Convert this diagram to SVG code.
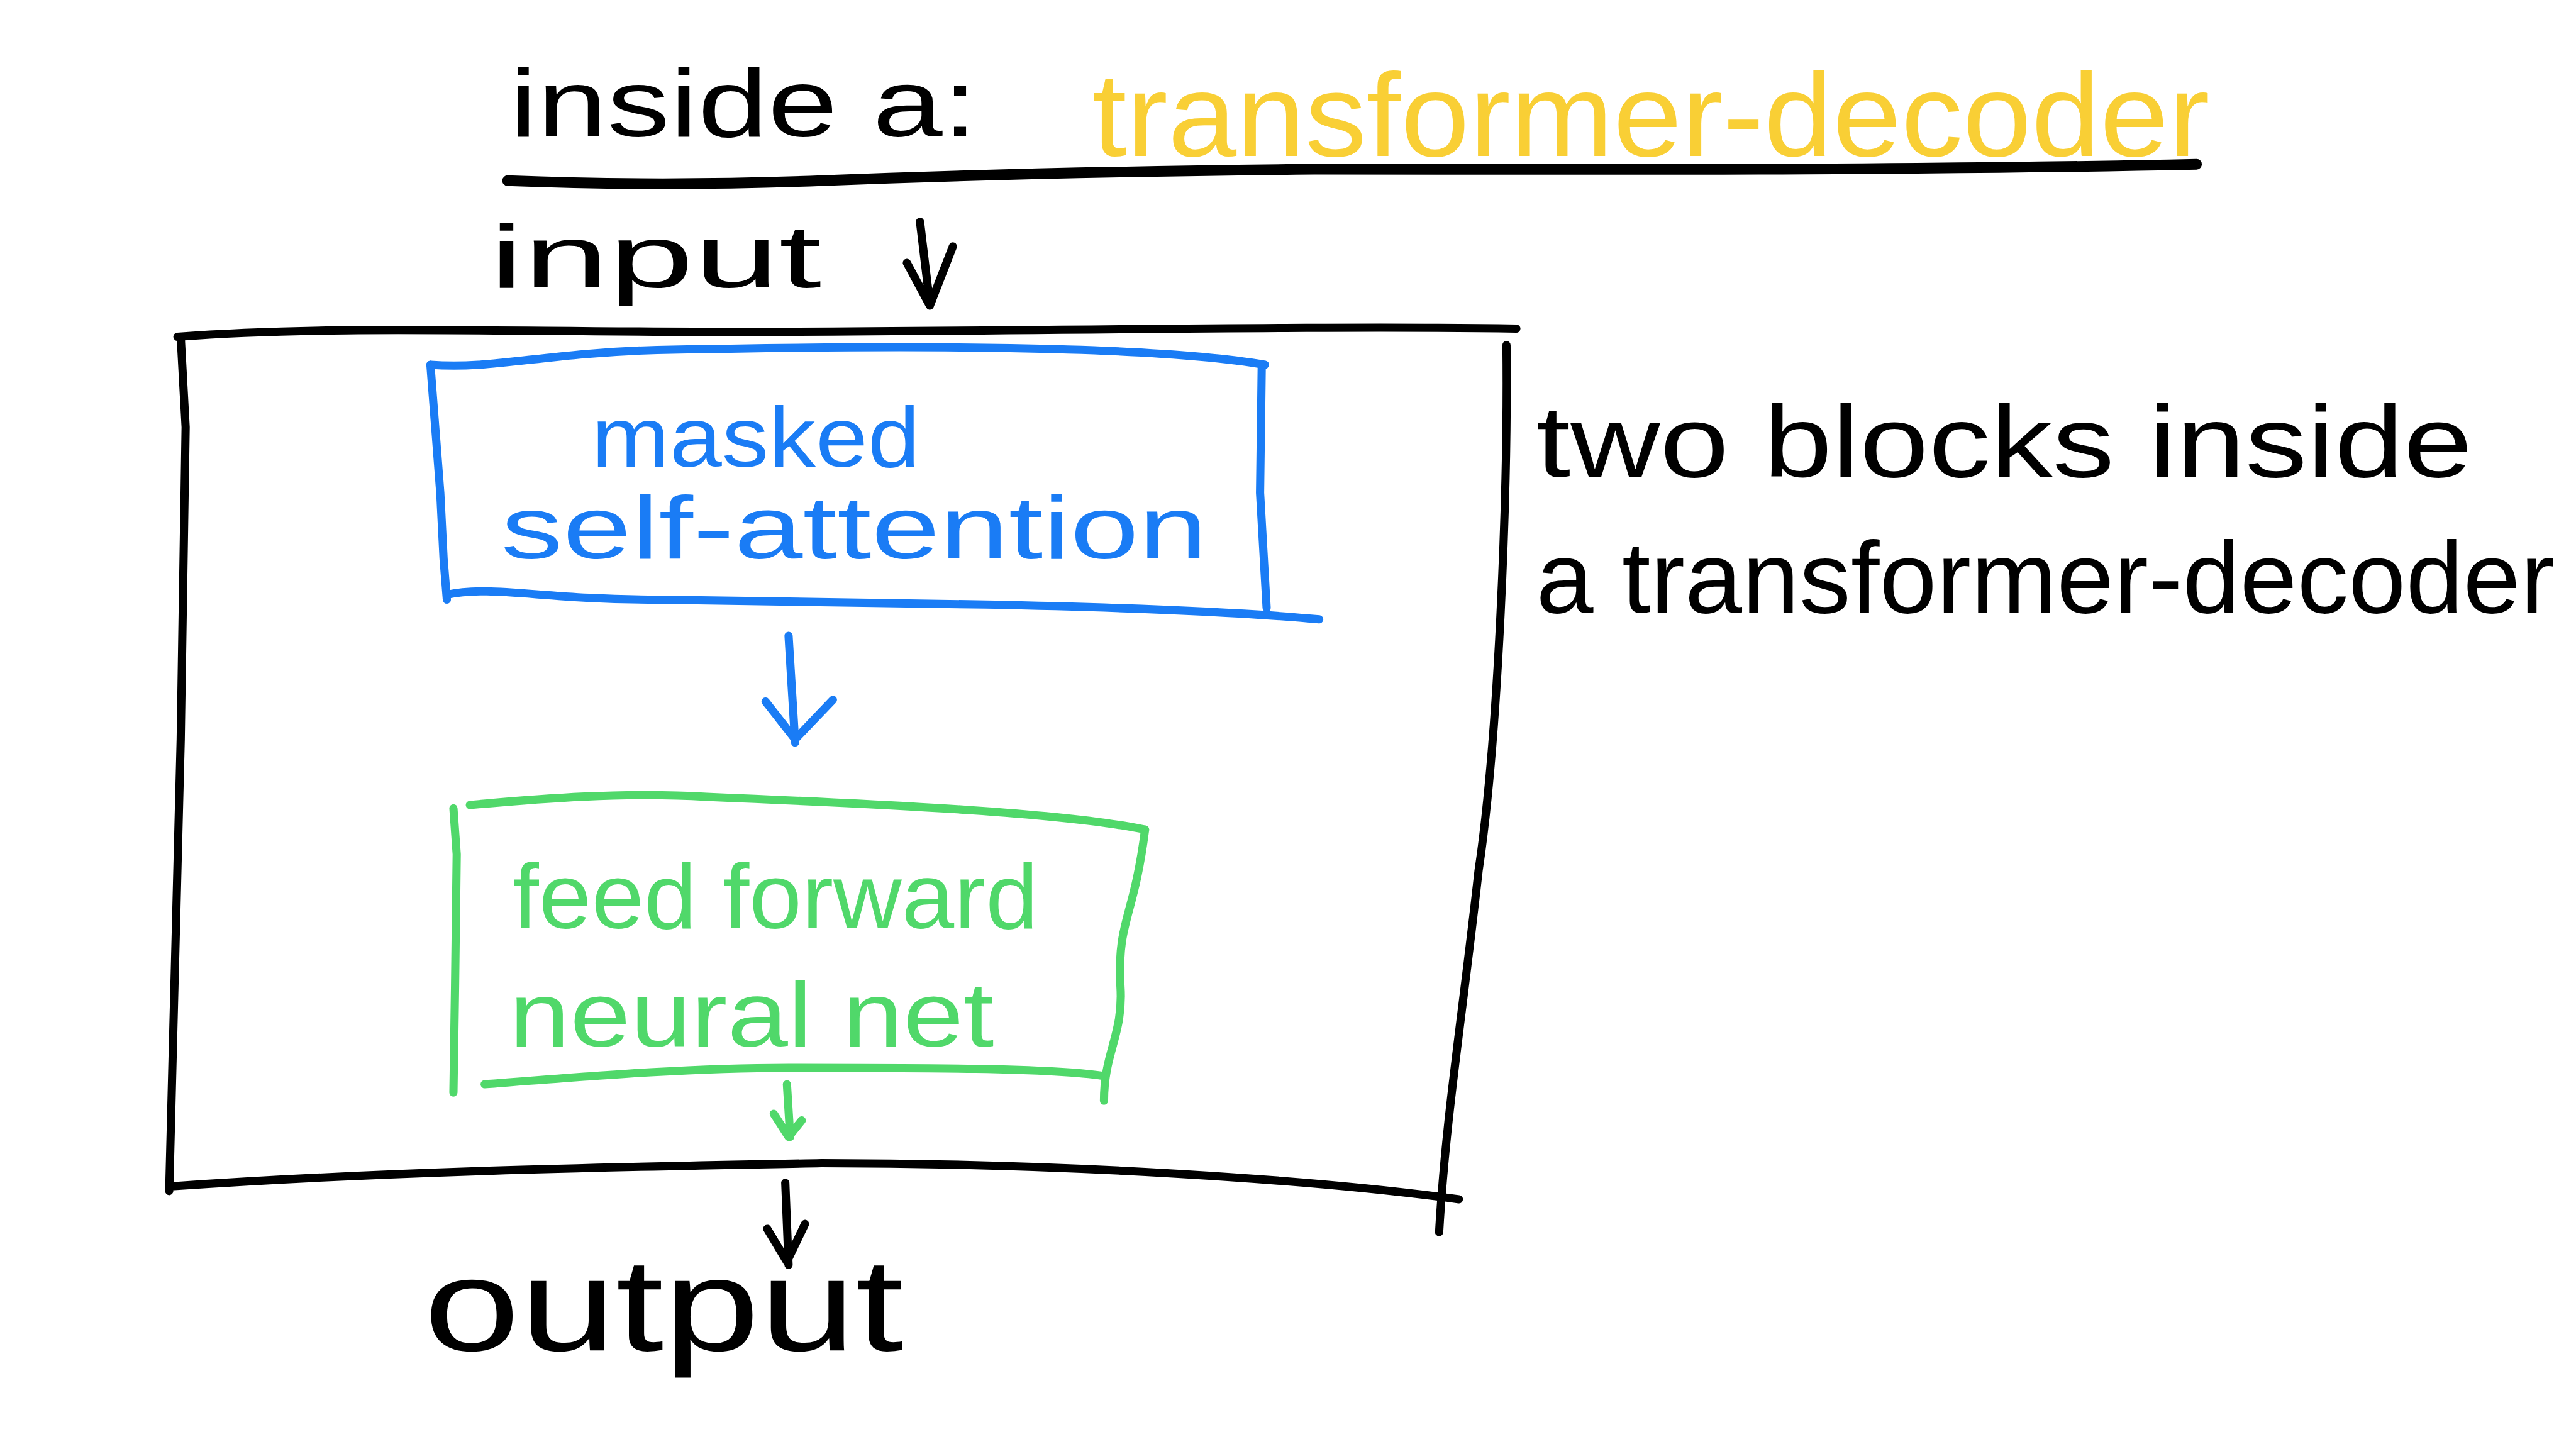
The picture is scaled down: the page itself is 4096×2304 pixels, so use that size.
<svg xmlns="http://www.w3.org/2000/svg" width="4096" height="2304" viewBox="0 0 4096 2304">
<style>
.ink{fill:none;stroke-linecap:round;stroke-linejoin:round}
.k{stroke:#000000;stroke-width:5}
.b{stroke:#1a7cf5;stroke-width:5}
.g{stroke:#50d86a;stroke-width:5}
.t{font-family:"Liberation Sans","DejaVu Sans",sans-serif;font-weight:normal}
.tk{fill:#000000}
.tb{fill:#1a7cf5}
.tg{fill:#50d86a}
.ty{fill:#f9cf35}
</style>
<rect width="4096" height="2304" fill="#ffffff"/>
<g transform="scale(2.61224)">
  <g id="title">
    <text class="t tk" x="310" y="83" font-size="58" textLength="285" lengthAdjust="spacingAndGlyphs">inside a:</text>
    <text class="t ty" x="665" y="95" font-size="72" textLength="680" lengthAdjust="spacingAndGlyphs">transformer-decoder</text>
    <path class="ink" stroke="#000" stroke-width="6.5" d="M309,110 C360,112 420,113 500,110 C600,106 700,104 800,103 C950,103 1150,104 1337,100"/>
  </g>
  <g id="input">
    <text class="t tk" x="298" y="175" font-size="54" textLength="202" lengthAdjust="spacingAndGlyphs">input</text>
  </g>
  <g id="decoder">
    <path class="ink k" d="M108,205 C200,198 300,202 450,202 C600,202 800,198 923,200"/>
    <path class="ink k" d="M110,205 L113,260 L110,450 L103,725"/>
    <path class="ink k" d="M917,210 C918,300 912,450 900,530 C890,620 880,680 876,750"/>
    <path class="ink k" d="M106,722 C250,712 400,710 500,708 C650,708 800,718 888,730"/>
  </g>
  <g id="masked-self-attention">
    <path class="ink b" d="M262,222 C300,225 330,215 400,213 C550,210 700,210 770,222"/>
    <path class="ink b" d="M262,222 L268,300 L270,340 L272,365"/>
    <path class="ink b" d="M272,362 C300,356 330,365 400,365 L600,368 C700,370 760,373 803,377"/>
    <path class="ink b" d="M768,224 L767,300 L771,370"/>
    <text class="t tb" x="360" y="284" font-size="52" textLength="200" lengthAdjust="spacingAndGlyphs">masked</text>
    <text class="t tb" x="305" y="340" font-size="54" textLength="430" lengthAdjust="spacingAndGlyphs">self-attention</text>
  </g>
  <g id="feed-forward">
    <path class="ink g" d="M286,490 C330,486 380,482 430,485 C550,490 650,495 697,505"/>
    <path class="ink g" d="M276,492 L278,520 L277,600 L276,665"/>
    <path class="ink g" d="M697,505 C690,560 680,560 682,600 C684,630 672,640 672,670"/>
    <path class="ink g" d="M295,660 C360,655 420,650 480,650 C560,650 640,650 672,655"/>
    <text class="t tg" x="312" y="565" font-size="56" textLength="320" lengthAdjust="spacingAndGlyphs">feed forward</text>
    <text class="t tg" x="310" y="637" font-size="56" textLength="295" lengthAdjust="spacingAndGlyphs">neural net</text>
  </g>
  <g id="output">
    <text class="t tk" x="258" y="822" font-size="80" textLength="292" lengthAdjust="spacingAndGlyphs">output</text>
  </g>
  <g id="note">
    <text class="t tk" x="935" y="290" font-size="62" textLength="570" lengthAdjust="spacingAndGlyphs">two blocks inside</text>
    <text class="t tk" x="935" y="373" font-size="62" textLength="620" lengthAdjust="spacingAndGlyphs">a transformer-decoder</text>
  </g>
  <g id="connectors">
    <path class="ink k" d="M560,135 L566,185 M552,160 L566,186 L580,150"/>
    <path class="ink b" d="M480,387 L484,452 M466,427 L484,450 L507,426"/>
    <path class="ink g" d="M479,660 L481,692 M471,678 L480,692 L488,682"/>
    <path class="ink k" d="M478,720 L480,770 M467,748 L479,768 L490,745"/>
  </g>
</g>
</svg>
